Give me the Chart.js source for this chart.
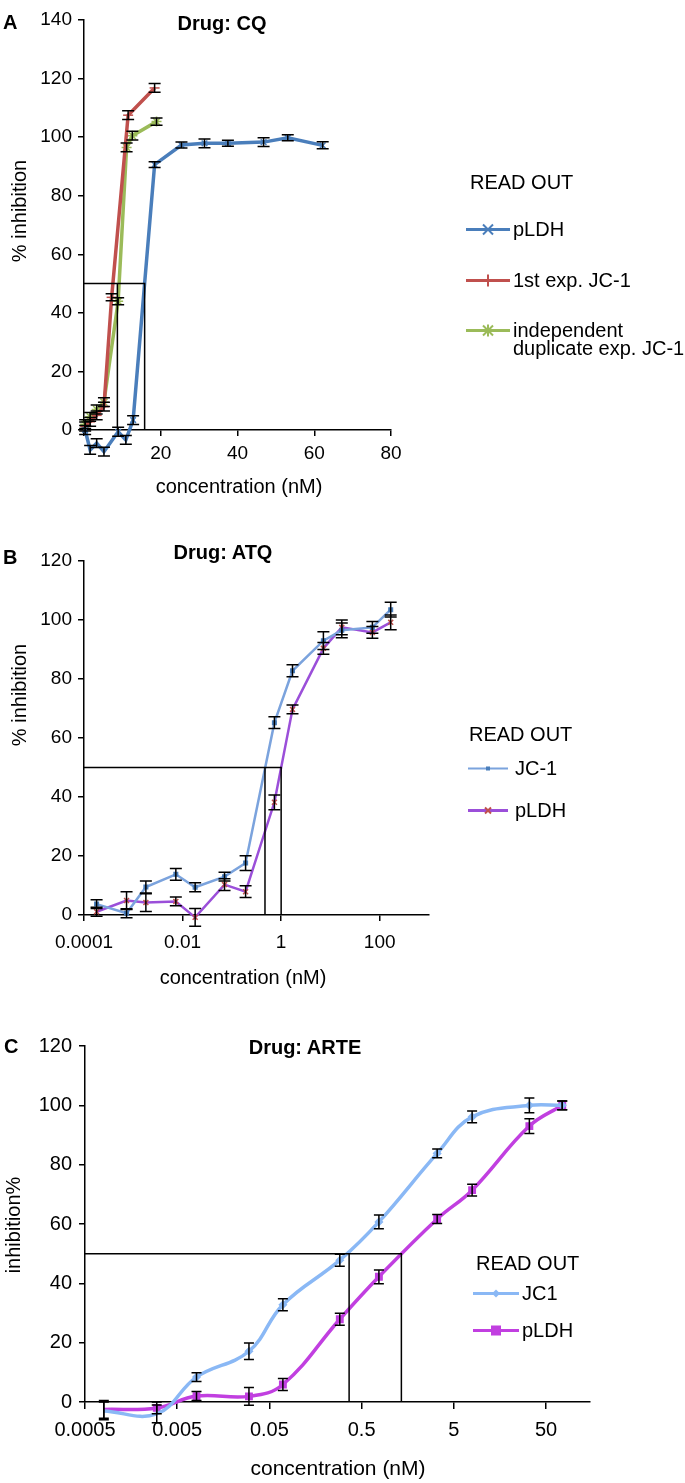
<!DOCTYPE html>
<html>
<head>
<meta charset="utf-8">
<script src="https://cdn.jsdelivr.net/npm/chart.js@4.4.1/dist/chart.umd.min.js"></script>
<style>
  body { margin: 0; background: #fff; font-family: 'Liberation Sans', Arial, sans-serif; }
  #page { position: relative; width: 685px; height: 1483px; overflow: hidden; }
  canvas { position: absolute; left: 0; }
  .t { position: absolute; white-space: nowrap; color: #000; transform: translate(-50%, -50%); }
  .l { position: absolute; white-space: nowrap; color: #000; transform: translateY(-50%); }
  .rot { transform: translate(-50%, -50%) rotate(-90deg); }
  .b { font-weight: bold; }
  .key { position: absolute; display: flex; align-items: center; transform: translateY(-50%); }
  .key svg { display: block; margin-right: 3px; }
</style>
</head>
<body>
<div id="page">
  <canvas id="cA" width="685" height="500" style="top:0"></canvas>
  <canvas id="cB" width="685" height="500" style="top:500px"></canvas>
  <canvas id="cC" width="685" height="483" style="top:1000px"></canvas>

  <!-- panel A text -->
  <div class="l b" style="left:3px;top:22px;font-size:20px">A</div>
  <div class="t b" style="left:222px;top:23px;font-size:20px">Drug: CQ</div>
  <div class="t rot" style="left:19px;top:211px;font-size:20px">% inhibition</div>
  <div class="t" style="left:239px;top:486px;font-size:20px">concentration (nM)</div>
  <div class="l" style="left:470px;top:182px;font-size:20px">READ OUT</div>
  <div class="key" style="left:466px;top:229px;font-size:20px">
    <svg width="44" height="14"><line x1="0" y1="7" x2="44" y2="7" stroke="#4a7ebb" stroke-width="3"/><path d="M17 2 L27 12 M27 2 L17 12" stroke="#4a7ebb" stroke-width="2"/></svg>pLDH</div>
  <div class="key" style="left:466px;top:280px;font-size:20px">
    <svg width="44" height="14"><line x1="0" y1="7" x2="44" y2="7" stroke="#c0504d" stroke-width="3"/><path d="M22 1 L22 13" stroke="#c0504d" stroke-width="2"/></svg>1st exp. JC-1</div>
  <div class="key" style="left:466px;top:330px;font-size:20px">
    <svg width="44" height="14"><line x1="0" y1="7" x2="44" y2="7" stroke="#9bbb59" stroke-width="3"/><path d="M17 2 L27 12 M27 2 L17 12 M22 1 L22 13" stroke="#9bbb59" stroke-width="2"/></svg>independent</div>
  <div class="l" style="left:513px;top:348px;font-size:20px">duplicate exp. JC-1</div>

  <!-- panel B text -->
  <div class="l b" style="left:3px;top:557px;font-size:20px">B</div>
  <div class="t b" style="left:223px;top:552px;font-size:20px">Drug: ATQ</div>
  <div class="t rot" style="left:19px;top:695px;font-size:20px">% inhibition</div>
  <div class="t" style="left:243px;top:977px;font-size:20px">concentration (nM)</div>
  <div class="l" style="left:469px;top:734px;font-size:20px">READ OUT</div>
  <div class="key" style="left:468px;top:768px;font-size:20px">
    <svg width="44" height="14"><line x1="0" y1="7" x2="40" y2="7" stroke="#7ba3dd" stroke-width="2"/><rect x="18" y="5" width="4" height="4" fill="#4a7ebb"/></svg>JC-1</div>
  <div class="key" style="left:468px;top:810px;font-size:20px">
    <svg width="44" height="14"><line x1="0" y1="7" x2="40" y2="7" stroke="#9b4fd9" stroke-width="3"/><path d="M17 4 L23 10 M23 4 L17 10" stroke="#c0504d" stroke-width="2"/></svg>pLDH</div>

  <!-- panel C text -->
  <div class="l b" style="left:4px;top:1046px;font-size:20px">C</div>
  <div class="t b" style="left:305px;top:1047px;font-size:20px">Drug: ARTE</div>
  <div class="t rot" style="left:13px;top:1225px;font-size:20px">inhibition%</div>
  <div class="t" style="left:338px;top:1468px;font-size:21px">concentration (nM)</div>
  <div class="l" style="left:476px;top:1263px;font-size:20px">READ OUT</div>
  <div class="key" style="left:473px;top:1293px;font-size:20px">
    <svg width="46" height="14"><line x1="0" y1="7" x2="46" y2="7" stroke="#8ab8f5" stroke-width="3"/><path d="M23 3 L27 7 L23 11 L19 7 Z" fill="#8ab8f5"/></svg>JC1</div>
  <div class="key" style="left:473px;top:1330px;font-size:20px">
    <svg width="46" height="14"><line x1="0" y1="7" x2="46" y2="7" stroke="#c13fe0" stroke-width="3"/><rect x="18" y="2" width="10" height="10" fill="#c13fe0"/></svg>pLDH</div>
</div>

<script>
// ---- panel A: chloroquine (linear axis)
const cqPldhConc = [0.3, 1.6, 3.3, 5.2, 8.9, 10.9, 12.8, 18.4, 25.4, 31.4, 37.5, 46.8, 53.1, 62.2];
const cqPldh     = [0, -6.8, -4.5, -7.4, -0.6, -3.4, 3.4, 90.6, 97.3, 97.9, 97.9, 98.3, 99.8, 97.2];
const cqPldhErr  = [1.5, 1.5, 1.5, 1.5, 1.5, 1.5, 1.5, 1, 1, 1.5, 1, 1.5, 1, 1.2];
const cqJc1aConc = [0.3, 1.6, 3.3, 5.2, 7.2, 11.5, 18.4];
const cqJc1a     = [1.2, 2.8, 5.0, 8.0, 45.3, 107.5, 116.8];
const cqJc1aErr  = [1.5, 1.5, 1.5, 1.5, 1.2, 1.5, 1.5];
const cqJc1bConc = [0.3, 1.6, 3.3, 5.2, 8.9, 11.1, 12.6, 18.9];
const cqJc1b     = [2.0, 4.5, 7.0, 9.5, 44, 96.5, 100.5, 105.3];
const cqJc1bErr  = [1.5, 1.5, 1.5, 1.5, 1.2, 1.5, 1.5, 1.2];
const cqIc50     = [8.7, 15.8];
const cqXTicks   = [0, 20, 40, 60, 80];

// ---- panel B: atovaquone (log axis)
const atqConc    = [0.00018, 0.00073, 0.0018, 0.0073, 0.018, 0.071, 0.19, 0.73, 1.7, 7.2, 17, 71, 167];
const atqJc1     = [3.7, 0.6, 9.5, 13.8, 9.4, 13, 17.6, 65.2, 82.8, 93, 96.5, 97.5, 103.5];
const atqJc1Err  = [1.5, 1.5, 2, 2, 1.5, 1.5, 2.5, 2, 2, 3, 2.5, 2, 2.5];
const atqPldh    = [1.1, 4.9, 4.2, 4.6, -0.8, 10.3, 7.9, 38.2, 69.7, 90.4, 97.5, 95.8, 99.2];
const atqPldhErr = [1.5, 3, 3, 1.5, 3, 2, 2, 2.5, 1.5, 2, 2.5, 2, 2.5];
const atqIc50    = [0.47, 1.0];
const atqXTicks  = [0.0001, 0.01, 1, 100];
const atqXLabels = ['0.0001', '0.01', '1', '100'];

// ---- panel C: artesunate (log axis)
const arteConc    = [0.0008, 0.003, 0.0081, 0.03, 0.07, 0.29, 0.77, 3.3, 7.9, 33, 75];
const arteJc1     = [-3, -4, 8.4, 17.1, 32.8, 47.8, 60.7, 83.8, 96.1, 100, 100];
const arteJc1Err  = [3, 3, 1.5, 2.8, 2, 2, 2.3, 1.5, 2, 2.5, 1.5];
const artePldh    = [-2.5, -2, 2.0, 1.9, 5.9, 27.9, 42.2, 61.7, 71.4, 93, 100];
const artePldhErr = [3, 2, 1.5, 3, 2, 2, 2.3, 1.5, 2, 2.5, 1.5];
const arteIc50    = [0.366, 1.35];
const arteXTicks  = [0.0005, 0.005, 0.05, 0.5, 5, 50];
const arteXLabels = ['0.0005', '0.005', '0.05', '0.5', '5', '50'];

Chart.defaults.font.family = "'Liberation Sans', Arial, sans-serif";
Chart.defaults.color = '#000';

const pts = (xs, ys) => xs.map((x, i) => ({ x: x, y: ys[i] }));

// black error bars with caps
const errorBars = {
  id: 'errorBars',
  afterDatasetsDraw(chart) {
    const ctx = chart.ctx, ys = chart.scales.y;
    chart.data.datasets.forEach((ds, i) => {
      if (!ds.errors) return;
      const meta = chart.getDatasetMeta(i);
      const w = ds.capWidth || 5;
      ctx.save();
      ctx.strokeStyle = '#000';
      ctx.lineWidth = 1.5;
      meta.data.forEach((p, j) => {
        const v = ds.data[j].y, e = ds.errors[j];
        const t = ys.getPixelForValue(v + e), b = ys.getPixelForValue(v - e);
        ctx.beginPath();
        ctx.moveTo(p.x, t); ctx.lineTo(p.x, b);
        ctx.moveTo(p.x - w, t); ctx.lineTo(p.x + w, t);
        ctx.moveTo(p.x - w, b); ctx.lineTo(p.x + w, b);
        ctx.stroke();
      });
      ctx.restore();
    });
  }
};

// 50% lines: horizontal to the higher IC50, then drop lines at both
function icLines(x0, ic) {
  const base = { borderColor: '#000', borderWidth: 1.5, pointRadius: 0, showLine: true, tension: 0, order: 0, clip: false };
  return [
    Object.assign({ data: [{ x: x0, y: 50 }, { x: ic[1], y: 50 }, { x: ic[1], y: 0 }] }, base),
    Object.assign({ data: [{ x: ic[0], y: 50 }, { x: ic[0], y: 0 }] }, base)
  ];
}

function axisY(max, fontSize, width, pad) {
  return {
    min: 0, max: max,
    ticks: { stepSize: 20, font: { size: fontSize }, padding: pad, color: '#000' },
    grid: { drawOnChartArea: false, tickLength: 6, color: '#000', lineWidth: 1.5 },
    border: { color: '#000', width: 1.5 },
    afterFit: s => { s.width = width; }
  };
}

function series(label, xs, ys, err, color, lw, style, radius, markColor, tension, cap) {
  return {
    label: label, data: pts(xs, ys), errors: err, capWidth: cap,
    showLine: true, borderColor: color, borderWidth: lw, tension: tension,
    pointStyle: style, pointRadius: radius, pointHoverRadius: radius,
    pointBorderColor: markColor, pointBackgroundColor: markColor, pointBorderWidth: 1.5,
    order: 1, clip: false
  };
}

const common = {
  responsive: false,
  animation: false,
  plugins: { legend: { display: false }, tooltip: { enabled: false } }
};

// ----- A
new Chart(document.getElementById('cA'), {
  type: 'scatter',
  data: {
    datasets: [
      ...icLines(0, cqIc50),
      series('pLDH', cqPldhConc, cqPldh, cqPldhErr, '#4a7ebb', 3.5, 'crossRot', 4, '#4a7ebb', 0, 6),
      series('1st exp. JC-1', cqJc1aConc, cqJc1a, cqJc1aErr, '#c0504d', 3.5, 'line', 5, '#c0504d', 0, 6),
      series('independent duplicate exp. JC-1', cqJc1bConc, cqJc1b, cqJc1bErr, '#9bbb59', 3.5, 'star', 5, '#9bbb59', 0, 6)
    ]
  },
  options: Object.assign({}, common, {
    layout: { padding: { left: 0, right: 294, top: 20, bottom: 0 } },
    scales: {
      x: {
        type: 'linear', min: 0, max: 80,
        afterBuildTicks: s => { s.ticks = cqXTicks.map(v => ({ value: v })); },
        ticks: { font: { size: 19 }, padding: 6, color: '#000', callback: v => (v === 0 ? '' : String(v)) },
        grid: { drawOnChartArea: false, tickLength: 6, color: '#000', lineWidth: 1.5 },
        border: { color: '#000', width: 1.5 },
        afterFit: s => { s.height = 70; }
      },
      y: axisY(140, 19, 84, 6)
    }
  }),
  plugins: [errorBars]
});

// ----- B
new Chart(document.getElementById('cB'), {
  type: 'scatter',
  data: {
    datasets: [
      ...icLines(0.0001, atqIc50),
      series('JC-1', atqConc, atqJc1, atqJc1Err, '#7ba3dd', 2.5, 'rect', 2.5, '#4a7ebb', 0, 6),
      series('pLDH', atqConc, atqPldh, atqPldhErr, '#9b4fd9', 2.5, 'crossRot', 3.5, '#c0504d', 0, 6)
    ]
  },
  options: Object.assign({}, common, {
    layout: { padding: { left: 0, right: 256, top: 61, bottom: 0 } },
    scales: {
      x: {
        type: 'logarithmic', min: 0.0001, max: 1000,
        afterBuildTicks: s => { s.ticks = atqXTicks.map(v => ({ value: v })); },
        ticks: { font: { size: 19 }, padding: 10, color: '#000', autoSkip: false, maxRotation: 0,
                 callback: (v, i) => atqXLabels[i] },
        grid: { drawOnChartArea: false, tickLength: 6, color: '#000', lineWidth: 1.5 },
        border: { color: '#000', width: 1.5 },
        afterFit: s => { s.height = 85; }
      },
      y: axisY(120, 19, 84, 6)
    }
  }),
  plugins: [errorBars]
});

// ----- C
new Chart(document.getElementById('cC'), {
  type: 'scatter',
  data: {
    datasets: [
      ...icLines(0.0005, arteIc50),
      series('JC1', arteConc, arteJc1, arteJc1Err, '#8ab8f5', 3.5, 'rectRot', 3.5, '#8ab8f5', 0.4, 5),
      series('pLDH', arteConc, artePldh, artePldhErr, '#c13fe0', 3.5, 'rect', 4.5, '#c13fe0', 0.4, 5)
    ]
  },
  options: Object.assign({}, common, {
    layout: { padding: { left: 0, right: 95, top: 46, bottom: 0 } },
    scales: {
      x: {
        type: 'logarithmic', min: 0.0005, max: 150,
        afterBuildTicks: s => { s.ticks = arteXTicks.map(v => ({ value: v })); },
        ticks: { font: { size: 20 }, padding: 9, color: '#000', autoSkip: false, maxRotation: 0,
                 callback: (v, i) => arteXLabels[i] },
        grid: { drawOnChartArea: false, tickLength: 7, color: '#000', lineWidth: 1.5 },
        border: { color: '#000', width: 1.5 },
        afterFit: s => { s.height = 81; }
      },
      y: axisY(120, 20, 85, 7)
    }
  }),
  plugins: [errorBars]
});
</script>
</body>
</html>
